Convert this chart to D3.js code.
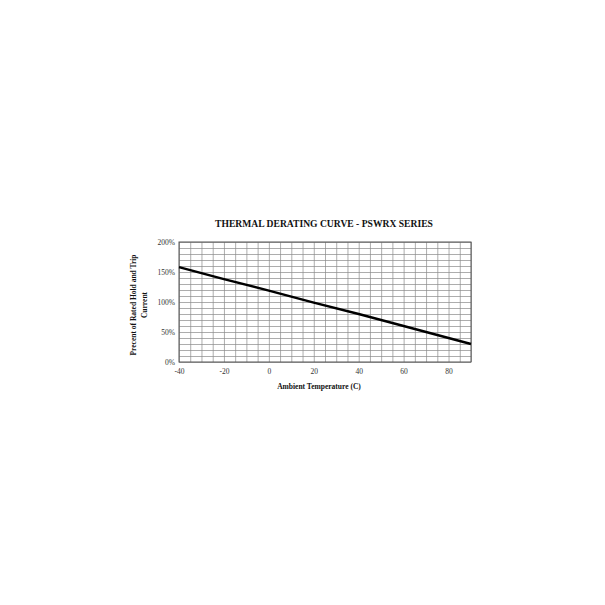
<!DOCTYPE html>
<html>
<head>
<meta charset="utf-8">
<script src="https://cdn.jsdelivr.net/npm/d3@7"></script>
<style>
  body { margin: 0; background: #fff; }
  text { font-family: "Liberation Serif", "DejaVu Serif", serif; }
</style>
</head>
<body>
<div id="chart"></div>
<script>
// Data
var temps = [-40, -20, 0, 20, 40, 60, 80, 90];
var percents = [158, 138, 119, 99, 80, 60, 40, 30];
var xTicks = [-40, -20, 0, 20, 40, 60, 80];
var yTicks = [0, 50, 100, 150, 200];

var svgWidth = 605;
var svgHeight = 605;

var margin = { top: 242, left: 179, right: 134, bottom: 243 };
var width = svgWidth - margin.left - margin.right;
var height = svgHeight - margin.top - margin.bottom;

var svg = d3.select("#chart")
    .append("svg")
    .attr("width", svgWidth)
    .attr("height", svgHeight);

var chartGroup = svg.append("g")
    .attr("transform", `translate(${margin.left}, ${margin.top})`);

var x = d3.scaleLinear().domain([-40, 90]).range([0, width]);
var y = d3.scaleLinear().domain([0, 200]).range([height, 0]);

// Grid: every 5 degrees and every 10 percent
chartGroup.append("g")
    .attr("class", "x-grid")
    .attr("transform", `translate(0, ${height})`)
    .call(d3.axisBottom(x).ticks(26).tickSize(-height).tickFormat(""))
    .call(g => g.select(".domain").remove())
    .call(g => g.selectAll("line").attr("stroke", "#8a8a8a").attr("stroke-width", 0.7));

chartGroup.append("g")
    .attr("class", "y-grid")
    .call(d3.axisLeft(y).ticks(20).tickSize(-width).tickFormat(""))
    .call(g => g.select(".domain").remove())
    .call(g => g.selectAll("line").attr("stroke", "#8a8a8a").attr("stroke-width", 0.7));

// Frame
chartGroup.append("rect")
    .attr("width", width)
    .attr("height", height)
    .attr("fill", "none")
    .attr("stroke", "#555")
    .attr("stroke-width", 1);

// Tick labels
chartGroup.append("g")
    .attr("transform", `translate(0, ${height})`)
    .call(d3.axisBottom(x).tickValues(xTicks).tickSize(0).tickPadding(7).tickFormat(d => String(d)))
    .call(g => g.select(".domain").remove())
    .call(g => g.selectAll("text")
        .attr("font-family", "Liberation Serif")
        .attr("font-size", 7.5)
        .attr("fill", "#333"));

chartGroup.append("g")
    .call(d3.axisLeft(y).tickValues(yTicks).tickSize(0).tickPadding(4).tickFormat(d => d + "%"))
    .call(g => g.select(".domain").remove())
    .call(g => g.selectAll("text")
        .attr("font-family", "Liberation Serif")
        .attr("font-size", 7.5)
        .attr("fill", "#333"));

// Derating line
var line = d3.line()
    .x((d, i) => x(temps[i]))
    .y(d => y(d));

chartGroup.append("path")
    .datum(percents)
    .attr("d", line)
    .attr("fill", "none")
    .attr("stroke", "#000")
    .attr("stroke-width", 2.4);

// Title
svg.append("text")
    .attr("x", 324)
    .attr("y", 227)
    .attr("text-anchor", "middle")
    .attr("font-size", 9.6)
    .attr("font-weight", "bold")
    .attr("fill", "#111")
    .text("THERMAL DERATING CURVE - PSWRX SERIES");

// X axis label
svg.append("text")
    .attr("x", 319)
    .attr("y", 389)
    .attr("text-anchor", "middle")
    .attr("font-size", 7.5)
    .attr("font-weight", "bold")
    .attr("fill", "#111")
    .text("Ambient Temperature (C)");

// Y axis label (two lines)
var yLabel = svg.append("text")
    .attr("transform", "translate(136, 305) rotate(-90)")
    .attr("text-anchor", "middle")
    .attr("font-size", 7.5)
    .attr("font-weight", "bold")
    .attr("fill", "#111");
yLabel.append("tspan").attr("x", 0).attr("y", 0).text("Precent of Rated Hold and Trip");
yLabel.append("tspan").attr("x", 0).attr("y", 11).text("Current");
</script>
</body>
</html>
